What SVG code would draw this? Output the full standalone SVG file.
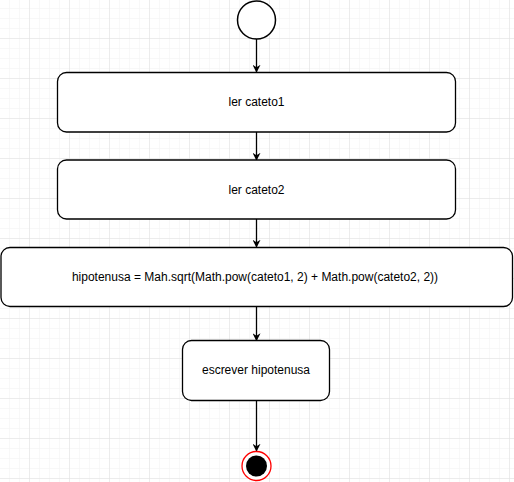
<svg xmlns="http://www.w3.org/2000/svg" width="514" height="482" viewBox="0 0 514 482">
<defs>
<pattern id="minor" x="9" y="8" width="10" height="10" patternUnits="userSpaceOnUse">
<path d="M0 0V10M0 0H10" fill="none" stroke="#f2f2f2" stroke-width="1"/>
</pattern>
<pattern id="major" x="29" y="38" width="40" height="40" patternUnits="userSpaceOnUse">
<path d="M0 0V40M0 0H40" fill="none" stroke="#e0e0e0" stroke-width="1"/>
</pattern>
<marker id="arr" viewBox="0 0 10 10" refX="9" refY="5" markerWidth="8" markerHeight="8" markerUnits="userSpaceOnUse" orient="auto">
<path d="M0 0L10 5L0 10L3 5Z" fill="#000"/>
</marker>
</defs>
<style>
.box{fill:#fff;stroke:#000;stroke-width:1.3}
.lbl{font-family:"Liberation Sans",Arial,sans-serif;font-size:12px;fill:#000;text-anchor:middle}
.edge{stroke:#000;stroke-width:1.3;fill:none}
</style>
<rect width="514" height="482" fill="#fff"/>
<rect width="514" height="482" fill="url(#minor)"/>
<rect width="514" height="482" fill="url(#major)"/>
<g id="connectors">
<path class="edge" d="M256.5 39V72" marker-end="url(#arr)"/>
<path class="edge" d="M256.5 132V160" marker-end="url(#arr)"/>
<path class="edge" d="M256.5 219V247" marker-end="url(#arr)"/>
<path class="edge" d="M256.5 306.5V340.5" marker-end="url(#arr)"/>
<path class="edge" d="M256.5 400.5V451" marker-end="url(#arr)"/>
</g>
<g id="start">
<circle cx="256.5" cy="20" r="19" fill="#fff" stroke="#000" stroke-width="1.5"/>
</g>
<g id="ler1">
<rect class="box" x="57.5" y="72.5" width="398" height="59.5" rx="9"/>
<text class="lbl" x="256.5" y="106">ler cateto1</text>
</g>
<g id="ler2">
<rect class="box" x="57.5" y="160" width="398" height="59" rx="9"/>
<text class="lbl" x="256.5" y="193.5">ler cateto2</text>
</g>
<g id="calc">
<rect class="box" x="1" y="247.5" width="511.5" height="59" rx="9"/>
<text class="lbl" x="255" y="281">hipotenusa = Mah.sqrt(Math.pow(cateto1, 2) + Math.pow(cateto2, 2))</text>
</g>
<g id="escrever">
<rect class="box" x="182.5" y="340.5" width="147" height="60" rx="9"/>
<text class="lbl" x="256" y="374">escrever hipotenusa</text>
</g>
<g id="end">
<circle cx="256.5" cy="466" r="14.5" fill="#fff" stroke="#ff0000" stroke-width="1.3"/>
<circle cx="256.5" cy="466" r="10.5" fill="#000"/>
</g>
</svg>
